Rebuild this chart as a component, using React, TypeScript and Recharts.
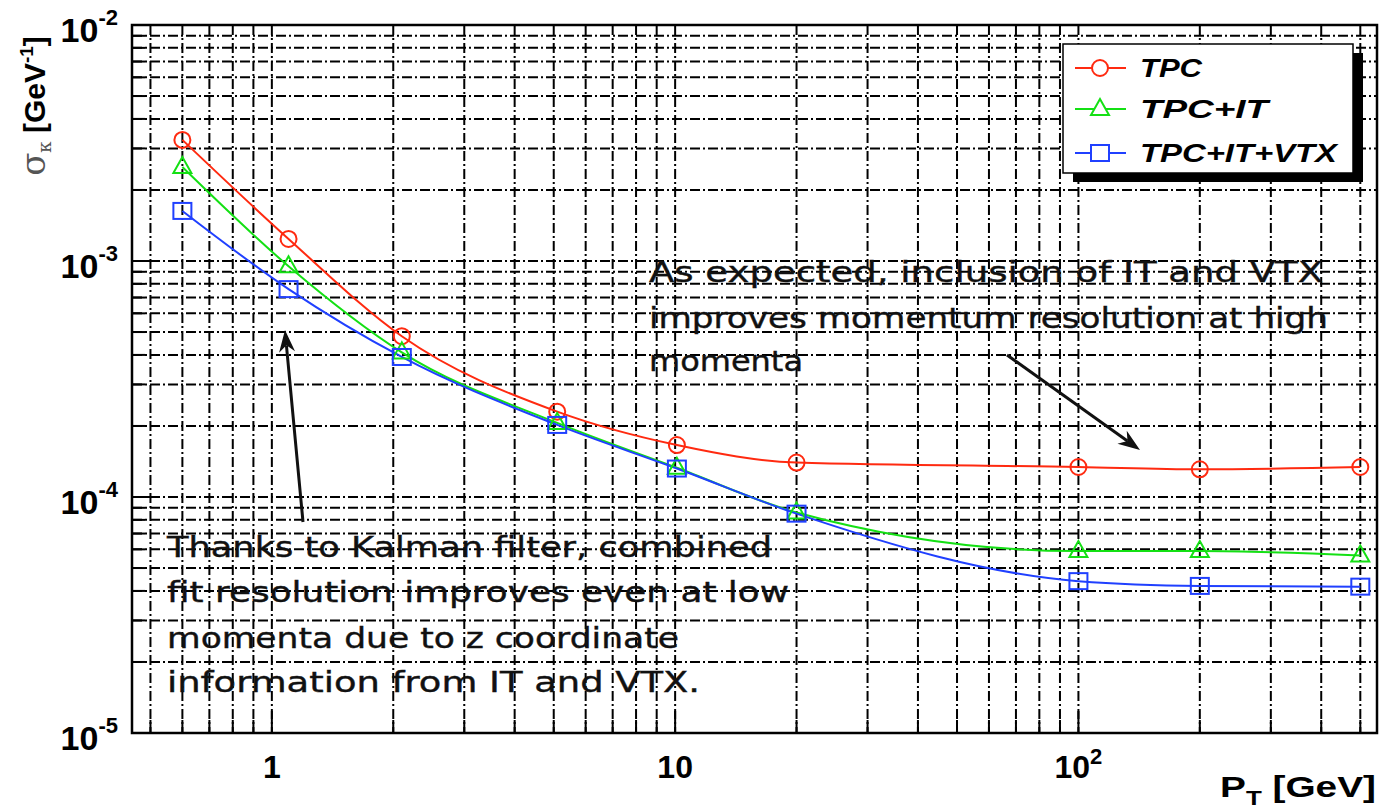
import React from "react";
import {
  LineChart,
  Line,
  XAxis,
  YAxis,
  CartesianGrid,
} from "recharts";

// transverse momentum points [GeV]
const ptValues = [0.6, 1.1, 2.1, 5.1, 10.1, 20, 100, 200, 500];
// sigma_kappa [GeV^-1] per detector configuration
const tpc = [3.26e-3, 1.24e-3, 4.8e-4, 2.3e-4, 1.66e-4, 1.4e-4, 1.34e-4, 1.31e-4, 1.34e-4];
const tpcIt = [2.5e-3, 9.5e-4, 4.1e-4, 2.06e-4, 1.33e-4, 8.6e-5, 5.9e-5, 5.9e-5, 5.65e-5];
const tpcItVtx = [1.63e-3, 7.6e-4, 3.92e-4, 2.02e-4, 1.32e-4, 8.5e-5, 4.4e-5, 4.2e-5, 4.17e-5];

const seriesNames = ["TPC", "TPC+IT", "TPC+IT+VTX"];

const xTicks = [
  0.5, 0.6, 0.7, 0.8, 0.9, 1, 2, 3, 4, 5, 6, 7, 8, 9, 10,
  20, 30, 40, 50, 60, 70, 80, 90, 100, 200, 300, 400, 500,
];
const xMajorLabels: Record<number, string[]> = { 1: ["1", ""], 10: ["10", ""], 100: ["10", "2"] };

const yTicks = [
  1e-5, 2e-5, 3e-5, 4e-5, 5e-5, 6e-5, 7e-5, 8e-5, 9e-5,
  1e-4, 2e-4, 3e-4, 4e-4, 5e-4, 6e-4, 7e-4, 8e-4, 9e-4,
  1e-3, 2e-3, 3e-3, 4e-3, 5e-3, 6e-3, 7e-3, 8e-3, 9e-3, 1e-2,
];
const yMajorLabels: Record<string, string> = { "1e-5": "-5", "1e-4": "-4", "1e-3": "-3", "1e-2": "-2" };

const RED = "#ff2a10";
const GREEN = "#14e014";
const BLUE = "#2040ff";

const W = 1386;
const H = 808;
const PLOT_LEFT = 132;
const PLOT_TOP = 25;
const PLOT_RIGHT = 1377;
const PLOT_BOTTOM = 733;

const data = ptValues.map((pt, i) => ({
  pt,
  tpc: tpc[i],
  tpcIt: tpcIt[i],
  tpcItVtx: tpcItVtx[i],
}));

const SANS = "'Liberation Sans', Arial, sans-serif";
const HAND = "'DejaVu Sans', sans-serif";

function CircleDot(props: any) {
  const { cx, cy } = props;
  if (cx == null || cy == null) return null;
  return <circle cx={cx} cy={cy} r={8} fill="none" stroke={RED} strokeWidth={2} />;
}

function TriangleDot(props: any) {
  const { cx, cy } = props;
  if (cx == null || cy == null) return null;
  return (
    <polygon
      points={`${cx},${cy - 10} ${cx - 9},${cy + 6} ${cx + 9},${cy + 6}`}
      fill="none"
      stroke={GREEN}
      strokeWidth={2}
    />
  );
}

function SquareDot(props: any) {
  const { cx, cy } = props;
  if (cx == null || cy == null) return null;
  return <rect x={cx - 9} y={cy - 8} width={18} height={16} fill="none" stroke={BLUE} strokeWidth={2} />;
}

function XTick(props: any) {
  const { x, y, payload } = props;
  const v = payload.value;
  const major = xMajorLabels[v];
  return (
    <g>
      <line x1={x} y1={y} x2={x} y2={y - (major ? 22 : 13)} stroke="#000" strokeWidth={2} />
      {major && (
        <text x={x} y={y + 45} textAnchor="middle" fontFamily={SANS} fontWeight="bold" fontSize={32} fill="#000">
          {major[0]}
          {major[1] && (
            <tspan dy={-14} fontSize={22}>
              {major[1]}
            </tspan>
          )}
        </text>
      )}
    </g>
  );
}

function YTick(props: any) {
  const { x, y, payload } = props;
  const key = Number(payload.value).toExponential().replace("+", "");
  const sup = yMajorLabels[key];
  return (
    <g>
      <line x1={x} y1={y} x2={x + (sup ? 22 : 13)} y2={y} stroke="#000" strokeWidth={2} />
      {sup && (
        <text x={x - 14} y={y + 17} textAnchor="end" fontFamily={SANS} fontWeight="bold" fontSize={34} fill="#000">
          10
          <tspan dy={-17} fontSize={22}>
            {sup}
          </tspan>
        </text>
      )}
    </g>
  );
}

function Arrow({ x1, y1, x2, y2 }: { x1: number; y1: number; x2: number; y2: number }) {
  const a = Math.atan2(y2 - y1, x2 - x1);
  const len = 22;
  const half = 8;
  const bx = x2 - len * Math.cos(a);
  const by = y2 - len * Math.sin(a);
  const px = -Math.sin(a) * half;
  const py = Math.cos(a) * half;
  const ix = x2 - len * 0.7 * Math.cos(a);
  const iy = y2 - len * 0.7 * Math.sin(a);
  return (
    <g>
      <line x1={x1} y1={y1} x2={ix} y2={iy} stroke="#111" strokeWidth={3} />
      <polygon points={`${x2},${y2} ${bx + px},${by + py} ${ix},${iy} ${bx - px},${by - py}`} fill="#111" />
    </g>
  );
}

function Overlay() {
  const legendRows = [
    { name: seriesNames[0], color: RED, y: 68, kind: "circle" },
    { name: seriesNames[1], color: GREEN, y: 109, kind: "triangle" },
    { name: seriesNames[2], color: BLUE, y: 153, kind: "square" },
  ];
  const textWidths = [62, 128, 197];
  return (
    <svg width={W} height={H} style={{ position: "absolute", left: 0, top: 0, pointerEvents: "none" }}>
      {/* plot frame */}
      <rect
        x={PLOT_LEFT}
        y={PLOT_TOP}
        width={PLOT_RIGHT - PLOT_LEFT}
        height={PLOT_BOTTOM - PLOT_TOP}
        fill="none"
        stroke="#000"
        strokeWidth={2.5}
      />

      {/* legend with shadow */}
      <rect x={1073} y={53} width={290} height={129} fill="#000" />
      <rect x={1063} y={44} width={290} height={129} fill="#fff" stroke="#000" strokeWidth={1.5} />
      {legendRows.map((r, i) => (
        <g key={r.name}>
          <line x1={1075} y1={r.y} x2={1126} y2={r.y} stroke={r.color} strokeWidth={2} />
          {r.kind === "circle" && <circle cx={1100} cy={r.y} r={8} fill="#fff" stroke={r.color} strokeWidth={2} />}
          {r.kind === "triangle" && (
            <polygon
              points={`1100,${r.y - 10} 1091,${r.y + 6} 1109,${r.y + 6}`}
              fill="#fff"
              stroke={r.color}
              strokeWidth={2}
            />
          )}
          {r.kind === "square" && (
            <rect x={1091} y={r.y - 8} width={18} height={16} fill="#fff" stroke={r.color} strokeWidth={2} />
          )}
          <text
            x={1140}
            y={r.y + 9}
            fontFamily={SANS}
            fontWeight="bold"
            fontStyle="italic"
            fontSize={25}
            textLength={textWidths[i]}
            lengthAdjust="spacingAndGlyphs"
            fill="#000"
          >
            {r.name}
          </text>
        </g>
      ))}

      {/* annotations */}
      <g fontFamily={HAND} fontSize={28} fill="#111" stroke="#111" strokeWidth={0.4}>
        <text x={649} y={282} textLength={674} lengthAdjust="spacingAndGlyphs">
          As expected, inclusion of IT and VTX
        </text>
        <text x={649} y={328} textLength={679} lengthAdjust="spacingAndGlyphs">
          improves momentum resolution at high
        </text>
        <text x={649} y={371} textLength={154} lengthAdjust="spacingAndGlyphs">
          momenta
        </text>
        <text x={167} y={557} textLength={605} lengthAdjust="spacingAndGlyphs">
          Thanks to Kalman filter, combined
        </text>
        <text x={167} y={602} textLength={622} lengthAdjust="spacingAndGlyphs">
          fit resolution improves even at low
        </text>
        <text x={167} y={648} textLength={512} lengthAdjust="spacingAndGlyphs">
          momenta due to z coordinate
        </text>
        <text x={167} y={692} textLength={533} lengthAdjust="spacingAndGlyphs">
          information from IT and VTX.
        </text>
      </g>
      <Arrow x1={303} y1={522} x2={285} y2={330} />
      <Arrow x1={1007} y1={355} x2={1140} y2={450} />

      {/* axis titles */}
      <text
        x={1376}
        y={797}
        textAnchor="end"
        fontFamily={SANS}
        fontWeight="bold"
        fontSize={30}
        fill="#000"
        textLength={156}
        lengthAdjust="spacingAndGlyphs"
      >
        P<tspan fontSize={20} dy={8}>T</tspan>
        <tspan dy={-8}> [GeV]</tspan>
      </text>
      <text
        transform="translate(45,106) rotate(-90)"
        textAnchor="middle"
        fontFamily={SANS}
        fontSize={30}
        fill="#000"
      >
        <tspan fontFamily="'DejaVu Serif', serif" fill="#555" fontSize={34}>σ</tspan>
        <tspan fontFamily="'DejaVu Serif', serif" fill="#555" fontSize={18} dy={6}>κ</tspan>
        <tspan fontWeight="bold" dy={-6}> [GeV</tspan>
        <tspan fontWeight="bold" fontSize={19} dy={-12}>-1</tspan>
        <tspan fontWeight="bold" dy={12}>]</tspan>
      </text>
    </svg>
  );
}

export default function App() {
  return (
    <div style={{ position: "absolute", left: 0, top: 0, width: W, height: H, background: "#fff" }}>
      <LineChart
        width={W}
        height={H}
        data={data}
        margin={{ top: PLOT_TOP, right: W - PLOT_RIGHT, bottom: H - PLOT_BOTTOM - 40, left: PLOT_LEFT - 60 }}
      >
        <CartesianGrid stroke="#000" strokeWidth={2} strokeDasharray="10 3 2 3" />
        <XAxis
          dataKey="pt"
          type="number"
          scale="log"
          domain={[0.45, 550]}
          allowDataOverflow
          ticks={xTicks}
          interval={0}
          tickSize={0}
          tickMargin={0}
          height={40}
          axisLine={false}
          tick={<XTick />}
        />
        <YAxis
          type="number"
          scale="log"
          domain={[1e-5, 1e-2]}
          allowDataOverflow
          ticks={yTicks}
          interval={0}
          tickSize={0}
          tickMargin={0}
          width={60}
          axisLine={false}
          tick={<YTick />}
        />
        <Line
          type="monotone"
          dataKey="tpc"
          name={seriesNames[0]}
          stroke={RED}
          strokeWidth={2}
          dot={<CircleDot />}
          isAnimationActive={false}
        />
        <Line
          type="monotone"
          dataKey="tpcIt"
          name={seriesNames[1]}
          stroke={GREEN}
          strokeWidth={2}
          dot={<TriangleDot />}
          isAnimationActive={false}
        />
        <Line
          type="monotone"
          dataKey="tpcItVtx"
          name={seriesNames[2]}
          stroke={BLUE}
          strokeWidth={2}
          dot={<SquareDot />}
          isAnimationActive={false}
        />
      </LineChart>
      <Overlay />
    </div>
  );
}
